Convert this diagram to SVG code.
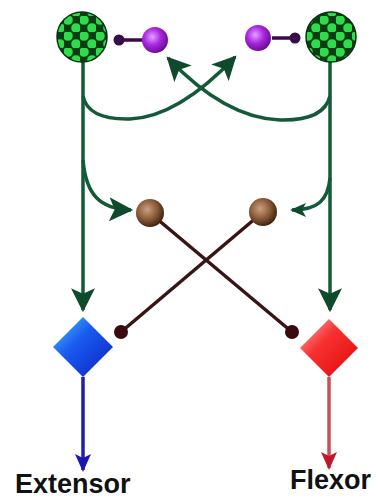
<svg xmlns="http://www.w3.org/2000/svg" width="379" height="500" viewBox="0 0 379 500">
<style>
.g{fill:none;stroke:#135a36;stroke-width:3.5}
.br{stroke:#3a1414;stroke-width:3.5}
.lbl{font-family:"Liberation Sans",Arial,sans-serif;font-weight:bold;font-size:27px;fill:#111}
</style>
<defs>
<pattern id="chk" width="16" height="16" patternUnits="userSpaceOnUse" x="0" y="0">
<rect width="16" height="16" fill="#0b3d14"/>
<circle cx="4" cy="4" r="4.8" fill="#2fdc4c"/>
<circle cx="12" cy="12" r="4.8" fill="#2fdc4c"/>
</pattern>
<radialGradient id="pur" cx="0.4" cy="0.38" r="0.65">
<stop offset="0" stop-color="#e5a0ff"/><stop offset="0.5" stop-color="#a828e0"/><stop offset="1" stop-color="#6a0a90"/>
</radialGradient>
<radialGradient id="brn" cx="0.4" cy="0.38" r="0.65">
<stop offset="0" stop-color="#caa080"/><stop offset="0.55" stop-color="#8a5a38"/><stop offset="1" stop-color="#3a200e"/>
</radialGradient>
<linearGradient id="blu" x1="0" y1="0" x2="1" y2="1">
<stop offset="0" stop-color="#50c8ff"/><stop offset="0.4" stop-color="#1a5cf0"/><stop offset="1" stop-color="#0a20c0"/>
</linearGradient>
<linearGradient id="red" x1="0" y1="0" x2="1" y2="1">
<stop offset="0" stop-color="#ffb0b0"/><stop offset="0.4" stop-color="#f83030"/><stop offset="1" stop-color="#e00808"/>
</linearGradient>
<marker id="ag" markerUnits="userSpaceOnUse" markerWidth="24" markerHeight="24" refX="20" refY="11" orient="auto" viewBox="0 0 22 22">
<path d="M0,0 L22,11 L0,22 L5,11 Z" fill="#0f4a2c"/>
</marker>
<marker id="ags" markerUnits="userSpaceOnUse" markerWidth="16" markerHeight="16" refX="14" refY="7" orient="auto" viewBox="0 0 16 14">
<path d="M0,0 L16,7 L0,14 L4,7 Z" fill="#0f4a2c"/>
</marker>
<marker id="ab" markerUnits="userSpaceOnUse" markerWidth="18" markerHeight="18" refX="16" refY="8" orient="auto" viewBox="0 0 18 16">
<path d="M0,0 L18,8 L0,16 L4,8 Z" fill="#1818b0"/>
</marker>
<marker id="ar" markerUnits="userSpaceOnUse" markerWidth="18" markerHeight="18" refX="16" refY="8" orient="auto" viewBox="0 0 18 16">
<path d="M0,0 L18,8 L0,16 L4,8 Z" fill="#c01828"/>
</marker>
</defs>
<g id="connectors">
<path class="g" d="M83,60 L83,310" marker-end="url(#ag)"/>
<path class="g" d="M330,60 L330,310" marker-end="url(#ag)"/>
<path class="g" d="M83,96 Q88,120 130,119 Q178,117 235,57" marker-end="url(#ag)"/>
<path class="g" d="M330,96 Q324,121 280,120 Q225,118 168,58" marker-end="url(#ag)"/>
<path class="g" d="M83,160 C86,195 100,209 131,210" marker-end="url(#ag)"/>
<path class="g" d="M330,178 C328,200 318,210 292,210" marker-end="url(#ags)"/>
<line class="br" x1="150" y1="213" x2="292" y2="332"/>
<line class="br" x1="263" y1="212" x2="121" y2="332"/>
<circle cx="292" cy="332" r="7" fill="#3a0a0e"/>
<circle cx="121" cy="332" r="7" fill="#3a0a0e"/>
<line x1="119" y1="40" x2="143" y2="40" stroke="#3a0a4a" stroke-width="3.5"/>
<circle cx="119" cy="40" r="5.5" fill="#3a0a4a"/>
<line x1="272" y1="38" x2="295" y2="38" stroke="#3a0a4a" stroke-width="3.5"/>
<circle cx="295" cy="38" r="5.5" fill="#3a0a4a"/>
<path d="M83,377 L83,470" fill="none" stroke="#2020a0" stroke-width="3.5" marker-end="url(#ab)"/>
<path d="M329,377 L329,468" fill="none" stroke="#c8505c" stroke-width="3.5" marker-end="url(#ar)"/>
</g>
<g id="green-left"><circle cx="82" cy="37" r="25" fill="url(#chk)" stroke="#0a3010" stroke-width="1.5"/></g>
<g id="green-right"><circle cx="331" cy="37" r="25" fill="url(#chk)" stroke="#0a3010" stroke-width="1.5"/></g>
<g id="purple-left"><circle cx="155" cy="40" r="13" fill="url(#pur)"/></g>
<g id="purple-right"><circle cx="258" cy="38" r="13" fill="url(#pur)"/></g>
<g id="brown-left"><circle cx="150" cy="213" r="14" fill="url(#brn)"/></g>
<g id="brown-right"><circle cx="263" cy="212" r="14" fill="url(#brn)"/></g>
<g id="extensor-diamond"><path d="M83,317 L113,347 L83,377 L53,347 Z" fill="url(#blu)"/></g>
<g id="flexor-diamond"><path d="M329,319 L358,348 L329,377 L300,348 Z" fill="url(#red)"/></g>
<g id="labels">
<text class="lbl" x="15" y="493">Extensor</text>
<text class="lbl" x="290" y="489">Flexor</text>
</g>
</svg>
